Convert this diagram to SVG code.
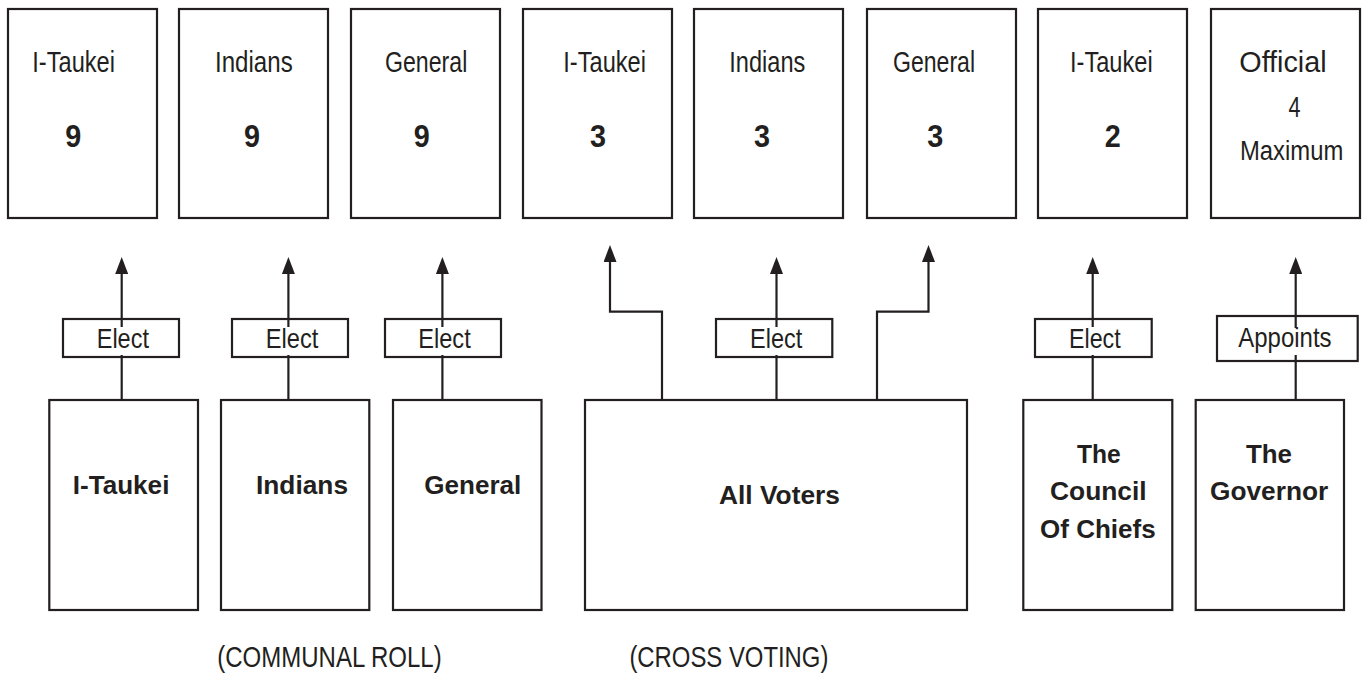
<svg xmlns="http://www.w3.org/2000/svg" width="1366" height="682" viewBox="0 0 1366 682">
  <defs>
    <style>
      .box { fill: #ffffff; stroke: #231f20; stroke-width: 2.2; }
      .tag { fill: #ffffff; stroke: #231f20; stroke-width: 2.2; }
      .wire { fill: none; stroke: #231f20; stroke-width: 2.2; }
      .lbl { font-family: "Liberation Sans", Arial, Helvetica, sans-serif; font-size: 30px; fill: #231f20; }
      .lbl-s { font-family: "Liberation Sans", Arial, Helvetica, sans-serif; font-size: 27px; fill: #231f20; }
      .tg { font-family: "Liberation Sans", Arial, Helvetica, sans-serif; font-size: 28px; fill: #231f20; }
      .num { font-family: "Liberation Sans", Arial, Helvetica, sans-serif; font-size: 32px; font-weight: bold; fill: #231f20; }
      .src { font-family: "Liberation Sans", Arial, Helvetica, sans-serif; font-size: 26px; font-weight: bold; fill: #231f20; }
    </style>
    <marker id="head" viewBox="0 0 17 13" refX="7" refY="6.5" markerWidth="17" markerHeight="13" markerUnits="userSpaceOnUse" orient="auto">
      <path d="M0,0 L17,6.5 L0,13 Z" fill="#231f20"/>
    </marker>
  </defs>
  <rect width="1366" height="682" fill="#ffffff"/>

  <!-- connectors (drawn first so the label tags sit on top) -->
  <g id="connectors">
    <path class="wire" d="M121.7,400 V267" marker-end="url(#head)"/>
    <path class="wire" d="M288.4,400 V267" marker-end="url(#head)"/>
    <path class="wire" d="M442.4,400 V267" marker-end="url(#head)"/>
    <path class="wire" d="M662,400 V311.7 H610 V255" marker-end="url(#head)"/>
    <path class="wire" d="M776.5,400 V267" marker-end="url(#head)"/>
    <path class="wire" d="M877,400 V311.7 H928.5 V255" marker-end="url(#head)"/>
    <path class="wire" d="M1092.7,400 V267" marker-end="url(#head)"/>
    <path class="wire" d="M1295.7,400 V267" marker-end="url(#head)"/>
  </g>

  <!-- seats in the legislature -->
  <g id="seat-itaukei-communal">
    <rect class="box" x="8" y="9" width="149" height="209"/>
    <text class="lbl" x="32.3" y="72" textLength="82.7" lengthAdjust="spacingAndGlyphs">I-Taukei</text>
    <text class="num" x="65.3" y="147" textLength="16" lengthAdjust="spacingAndGlyphs">9</text>
  </g>
  <g id="seat-indians-communal">
    <rect class="box" x="179" y="9" width="149" height="209"/>
    <text class="lbl" x="215" y="72" textLength="77.7" lengthAdjust="spacingAndGlyphs">Indians</text>
    <text class="num" x="244" y="147" textLength="16" lengthAdjust="spacingAndGlyphs">9</text>
  </g>
  <g id="seat-general-communal">
    <rect class="box" x="351" y="9" width="149" height="209"/>
    <text class="lbl" x="385" y="72" textLength="82.3" lengthAdjust="spacingAndGlyphs">General</text>
    <text class="num" x="413.7" y="147" textLength="16" lengthAdjust="spacingAndGlyphs">9</text>
  </g>
  <g id="seat-itaukei-cross">
    <rect class="box" x="523" y="9" width="149" height="209"/>
    <text class="lbl" x="563.3" y="72" textLength="82.7" lengthAdjust="spacingAndGlyphs">I-Taukei</text>
    <text class="num" x="590" y="147" textLength="16" lengthAdjust="spacingAndGlyphs">3</text>
  </g>
  <g id="seat-indians-cross">
    <rect class="box" x="694" y="9" width="149" height="209"/>
    <text class="lbl" x="729.3" y="72" textLength="76" lengthAdjust="spacingAndGlyphs">Indians</text>
    <text class="num" x="754" y="147" textLength="16" lengthAdjust="spacingAndGlyphs">3</text>
  </g>
  <g id="seat-general-cross">
    <rect class="box" x="867" y="9" width="149" height="209"/>
    <text class="lbl" x="893" y="72" textLength="82" lengthAdjust="spacingAndGlyphs">General</text>
    <text class="num" x="927.3" y="147" textLength="16" lengthAdjust="spacingAndGlyphs">3</text>
  </g>
  <g id="seat-itaukei-chiefs">
    <rect class="box" x="1038" y="9" width="149" height="209"/>
    <text class="lbl" x="1070" y="72" textLength="82.7" lengthAdjust="spacingAndGlyphs">I-Taukei</text>
    <text class="num" x="1104.8" y="147" textLength="16" lengthAdjust="spacingAndGlyphs">2</text>
  </g>
  <g id="seat-official">
    <rect class="box" x="1211" y="9" width="149" height="209"/>
    <text class="lbl" x="1239.3" y="72" textLength="87.3" lengthAdjust="spacingAndGlyphs">Official</text>
    <text class="lbl" x="1288.5" y="117" textLength="12" lengthAdjust="spacingAndGlyphs">4</text>
    <text class="lbl-s" x="1240" y="159.5" textLength="103.3" lengthAdjust="spacingAndGlyphs">Maximum</text>
  </g>

  <!-- action tags on the connectors -->
  <g id="tag-elect-1">
    <rect class="tag" x="63" y="319" width="116" height="38"/>
    <path class="wire" d="M121.7,319 V327 M121.7,357 V355"/>
    <text class="tg" x="96.7" y="348.3" textLength="52.3" lengthAdjust="spacingAndGlyphs">Elect</text>
  </g>
  <g id="tag-elect-2">
    <rect class="tag" x="232" y="319" width="116" height="38"/>
    <path class="wire" d="M288.4,319 V327 M288.4,357 V355"/>
    <text class="tg" x="265.7" y="348.3" textLength="52.6" lengthAdjust="spacingAndGlyphs">Elect</text>
  </g>
  <g id="tag-elect-3">
    <rect class="tag" x="385" y="319" width="116" height="38"/>
    <path class="wire" d="M442.4,319 V327 M442.4,357 V355"/>
    <text class="tg" x="418.3" y="348.3" textLength="52.4" lengthAdjust="spacingAndGlyphs">Elect</text>
  </g>
  <g id="tag-elect-4">
    <rect class="tag" x="716" y="319" width="116.3" height="38"/>
    <path class="wire" d="M776.5,319 V327 M776.5,357 V355"/>
    <text class="tg" x="750" y="348.3" textLength="52.3" lengthAdjust="spacingAndGlyphs">Elect</text>
  </g>
  <g id="tag-elect-5">
    <rect class="tag" x="1035" y="319" width="116.7" height="38"/>
    <path class="wire" d="M1092.7,319 V327 M1092.7,357 V355"/>
    <text class="tg" x="1069" y="348.3" textLength="51.7" lengthAdjust="spacingAndGlyphs">Elect</text>
  </g>
  <g id="tag-appoints">
    <rect class="tag" x="1217" y="316" width="140.7" height="45"/>
    <path class="wire" d="M1295.7,316 V328 M1295.7,361 V355"/>
    <text class="tg" x="1238.3" y="347" textLength="93.3" lengthAdjust="spacingAndGlyphs">Appoints</text>
  </g>

  <!-- electorates and appointing bodies -->
  <g id="src-itaukei">
    <rect class="box" x="49.3" y="400" width="148.7" height="210"/>
    <text class="src" x="72.7" y="494" textLength="96.7" lengthAdjust="spacingAndGlyphs">I-Taukei</text>
  </g>
  <g id="src-indians">
    <rect class="box" x="221" y="400" width="148.3" height="210"/>
    <text class="src" x="256" y="494" textLength="92" lengthAdjust="spacingAndGlyphs">Indians</text>
  </g>
  <g id="src-general">
    <rect class="box" x="393" y="400" width="148.5" height="210"/>
    <text class="src" x="424.3" y="494" textLength="97" lengthAdjust="spacingAndGlyphs">General</text>
  </g>
  <g id="src-all-voters">
    <rect class="box" x="585" y="400" width="382" height="210"/>
    <text class="src" x="719" y="504" textLength="121" lengthAdjust="spacingAndGlyphs">All Voters</text>
  </g>
  <g id="src-council">
    <rect class="box" x="1023.3" y="400" width="149" height="210"/>
    <text class="src" x="1077" y="462.5" textLength="43.7" lengthAdjust="spacingAndGlyphs">The</text>
    <text class="src" x="1050" y="500" textLength="96.7" lengthAdjust="spacingAndGlyphs">Council</text>
    <text class="src" x="1040" y="537.5" textLength="115.7" lengthAdjust="spacingAndGlyphs">Of Chiefs</text>
  </g>
  <g id="src-governor">
    <rect class="box" x="1195.7" y="400" width="148.3" height="210"/>
    <text class="src" x="1246" y="462.5" textLength="46" lengthAdjust="spacingAndGlyphs">The</text>
    <text class="src" x="1210" y="500" textLength="118.3" lengthAdjust="spacingAndGlyphs">Governor</text>
  </g>

  <!-- roll captions -->
  <g id="captions">
    <text class="lbl" x="217.3" y="667" textLength="224.4" lengthAdjust="spacingAndGlyphs">(COMMUNAL ROLL)</text>
    <text class="lbl" x="629.4" y="667" textLength="199" lengthAdjust="spacingAndGlyphs">(CROSS VOTING)</text>
  </g>
</svg>
